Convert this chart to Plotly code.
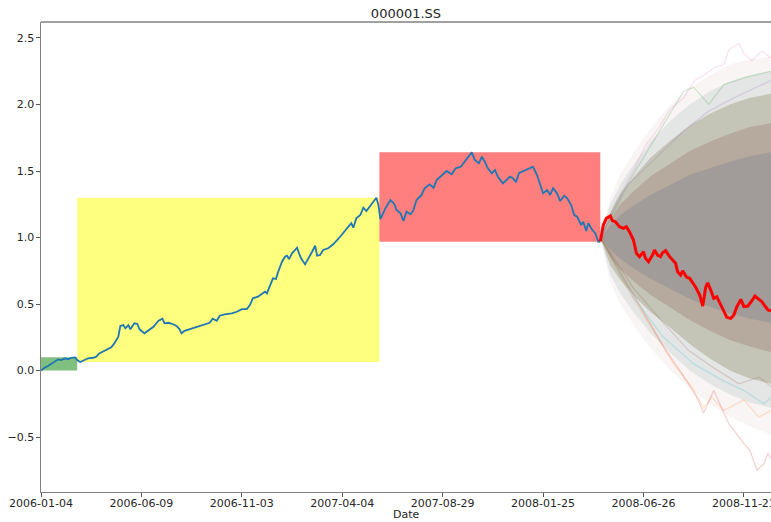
import plotly.graph_objects as go

# ---- historical cumulative return (x = trading-day index) ----
hist_day = [0, 4, 7, 10, 14, 17, 20, 24, 27, 30, 34, 36, 39, 42, 47, 52, 55, 58, 63, 67,
            70, 73, 77, 79, 82, 84, 87, 89, 93, 96, 98, 103, 107, 112, 117, 121, 123, 127, 131, 135,
            138, 140, 143, 148, 153, 158, 163, 168, 171, 175, 178, 183, 190, 195, 200, 205, 208, 211, 216, 220,
            223, 225, 228, 231, 234, 236, 240, 243, 245, 247, 250, 253, 255, 257, 259, 263, 266, 270, 273, 275,
            278, 281, 286, 291, 296, 301, 306, 309, 311, 314, 318, 321, 324, 328, 331, 334, 336, 338, 343, 348,
            352, 354, 358, 361, 364, 368, 371, 374, 379, 382, 387, 391, 394, 399, 404, 409, 413, 418, 422, 426,
            429, 432, 436, 439, 442, 445, 449, 452, 455, 460, 464, 467, 470, 473, 476, 481, 486, 490, 494, 497,
            500, 504, 507, 510, 514, 517, 521, 524, 528, 531, 534, 538, 540, 543, 545, 549, 552, 555, 557]
hist_value = [0.0, 0.024, 0.034, 0.049, 0.074, 0.084, 0.079, 0.092, 0.084, 0.096, 0.099, 0.079, 0.064, 0.074, 0.092, 0.096, 0.104, 0.129, 0.149, 0.159,
              0.174, 0.204, 0.254, 0.335, 0.342, 0.317, 0.342, 0.310, 0.355, 0.350, 0.310, 0.280, 0.299, 0.329, 0.374, 0.389, 0.355, 0.359, 0.350, 0.335,
              0.310, 0.280, 0.299, 0.310, 0.325, 0.335, 0.347, 0.359, 0.390, 0.374, 0.412, 0.422, 0.430, 0.442, 0.462, 0.462, 0.492, 0.543, 0.555, 0.580,
              0.593, 0.580, 0.643, 0.693, 0.688, 0.738, 0.818, 0.856, 0.863, 0.838, 0.881, 0.906, 0.923, 0.881, 0.844, 0.798, 0.844, 0.893, 0.938, 0.863,
              0.868, 0.906, 0.919, 0.949, 0.989, 1.032, 1.074, 1.107, 1.074, 1.144, 1.169, 1.224, 1.199, 1.239, 1.265, 1.299, 1.244, 1.139, 1.219, 1.282,
              1.250, 1.207, 1.182, 1.124, 1.194, 1.174, 1.207, 1.282, 1.320, 1.370, 1.400, 1.374, 1.432, 1.470, 1.500, 1.475, 1.520, 1.532, 1.570, 1.607,
              1.640, 1.583, 1.558, 1.607, 1.570, 1.520, 1.483, 1.508, 1.457, 1.407, 1.432, 1.457, 1.445, 1.415, 1.483, 1.500, 1.520, 1.532, 1.470, 1.395,
              1.332, 1.357, 1.320, 1.370, 1.332, 1.274, 1.314, 1.295, 1.244, 1.169, 1.156, 1.094, 1.119, 1.049, 1.107, 1.056, 1.032, 0.968, 0.970]

# ---- realised path after the simulation start ----
real_day = [557, 558, 560, 563, 567, 569, 572, 576, 580, 583, 586, 590, 593, 596, 600, 602, 605, 609, 611, 614,
            617, 619, 622, 626, 629, 632, 634, 637, 639, 643, 646, 649, 652, 656, 659, 662, 664, 667, 670, 673,
            676, 679, 683, 687, 690, 693, 697, 700, 704, 708, 711, 715, 718, 721, 724, 727]
real_value = [0.970, 1.020, 1.094, 1.144, 1.162, 1.126, 1.119, 1.081, 1.069, 1.081, 1.044, 0.981, 0.881, 0.856, 0.893, 0.844, 0.818, 0.868, 0.906, 0.868,
              0.856, 0.886, 0.901, 0.856, 0.831, 0.806, 0.743, 0.718, 0.750, 0.701, 0.693, 0.660, 0.626, 0.568, 0.485, 0.626, 0.660, 0.605, 0.543, 0.555,
              0.505, 0.455, 0.400, 0.392, 0.417, 0.480, 0.535, 0.480, 0.485, 0.525, 0.560, 0.535, 0.517, 0.485, 0.455, 0.450]

# ---- regimes: boundaries (trading-day index) and colours ----
regime_bounds = [0, 36, 337, 557]
regime_colors = ["green", "yellow", "red"]

# ---- simulated fan: nested envelopes of the simulated paths, outermost first ----
fan_day = [557, 567, 577, 592, 607, 627, 646, 666, 686, 706, 727]
fan_bands = [
    # (upper, lower, fill colour)
    ([1.00, 1.30, 1.48, 1.66, 1.82, 2.00, 2.12, 2.22, 2.30, 2.34, 2.36],
     [1.00, 0.66, 0.50, 0.32, 0.17, 0.00, -0.13, -0.25, -0.35, -0.42, -0.48], "rgba(210,175,170,0.12)"),
    ([1.00, 1.25, 1.40, 1.57, 1.72, 1.88, 2.00, 2.10, 2.17, 2.22, 2.25],
     [1.00, 0.72, 0.58, 0.42, 0.28, 0.13, 0.00, -0.10, -0.18, -0.24, -0.28], "rgba(150,175,175,0.22)"),
    ([1.00, 1.19, 1.33, 1.47, 1.60, 1.73, 1.84, 1.93, 2.00, 2.05, 2.08],
     [1.00, 0.79, 0.68, 0.55, 0.44, 0.32, 0.20, 0.09, 0.00, -0.06, -0.10], "rgba(145,145,105,0.38)"),
    ([1.00, 1.14, 1.25, 1.36, 1.46, 1.56, 1.65, 1.72, 1.78, 1.83, 1.86],
     [1.00, 0.85, 0.76, 0.66, 0.57, 0.47, 0.38, 0.30, 0.23, 0.18, 0.14], "rgba(150,105,100,0.30)"),
    ([1.00, 1.09, 1.17, 1.25, 1.32, 1.40, 1.47, 1.52, 1.57, 1.61, 1.64],
     [1.00, 0.91, 0.84, 0.76, 0.69, 0.61, 0.54, 0.48, 0.43, 0.39, 0.36], "rgba(100,115,145,0.25)"),
]

# a few of the outermost simulated paths
sim_paths = [
    ("#e377c2", [557, 575, 590, 601, 615, 626, 640, 651, 660, 671, 680, 685, 695, 700, 708, 718, 727],
     [1.0, 1.30, 1.50, 1.68, 1.82, 1.96, 2.05, 2.18, 2.22, 2.28, 2.30, 2.41, 2.46, 2.38, 2.33, 2.40, 2.35]),
    ("#2ca02c", [557, 580, 600, 620, 640, 650, 665, 680, 700, 727],
     [1.0, 1.35, 1.60, 1.85, 2.10, 2.13, 2.00, 2.15, 2.20, 2.25]),
    ("#d62728", [557, 580, 600, 620, 638, 653, 660, 670, 685, 700, 706, 713, 720, 724, 727],
     [1.0, 0.70, 0.45, 0.18, -0.02, -0.20, -0.32, -0.15, -0.40, -0.55, -0.60, -0.75, -0.70, -0.62, -0.66]),
    ("#ff7f0e", [557, 585, 610, 630, 648, 660, 668, 680, 700, 715, 727],
     [1.0, 0.60, 0.30, 0.05, -0.12, -0.28, -0.20, -0.30, -0.22, -0.35, -0.30]),
    ("#17becf", [557, 590, 620, 650, 680, 700, 720, 727],
     [1.0, 0.55, 0.25, 0.05, -0.08, -0.15, -0.25, -0.20]),
    ("#9467bd", [557, 585, 610, 640, 665, 690, 710, 727],
     [1.0, 1.40, 1.58, 1.80, 1.95, 2.05, 2.12, 2.18]),
    ("#8c564b", [557, 590, 615, 645, 670, 695, 715, 727],
     [1.0, 0.62, 0.40, 0.15, 0.02, -0.10, -0.05, -0.12]),
]

tick_labels = ["2006-01-04", "2006-06-09", "2006-11-03", "2007-04-04",
               "2007-08-29", "2008-01-25", "2008-06-26", "2008-11-21"]
tick_days = list(range(0, 100 * len(tick_labels), 100))

fig = go.Figure()

# regime rectangles spanning each segment's min..max
for (d0, d1), col in zip(zip(regime_bounds[:-1], regime_bounds[1:]), regime_colors):
    seg = [v for d, v in zip(hist_day, hist_value) if d0 <= d <= d1]
    fig.add_shape(type="rect", x0=d0, x1=d1, y0=min(seg), y1=max(seg),
                  fillcolor=col, opacity=0.5, line_width=0, layer="below")

fig.add_trace(go.Scatter(x=hist_day, y=hist_value, mode="lines",
                         line=dict(color="#1f77b4", width=1.8), showlegend=False))

for hi, lo, color in fan_bands:
    fig.add_trace(go.Scatter(x=fan_day + fan_day[::-1], y=hi + lo[::-1], fill="toself",
                             fillcolor=color, line=dict(width=0), mode="lines",
                             showlegend=False, hoverinfo="skip"))

for col, xs, ys in sim_paths:
    fig.add_trace(go.Scatter(x=xs, y=ys, mode="lines", opacity=0.2,
                             line=dict(color=col, width=1.3), showlegend=False))

fig.add_trace(go.Scatter(x=real_day, y=real_value, mode="lines",
                         line=dict(color="red", width=3), showlegend=False))

axis_font = dict(family="DejaVu Sans", size=11, color="#262626")
fig.update_layout(
    width=771, height=522,
    margin=dict(l=41, r=0, t=22, b=30),
    paper_bgcolor="white", plot_bgcolor="white",
    title=dict(text="000001.SS", x=0.5, xref="paper", y=1 - 13 / 522, yref="container",
               yanchor="middle", font=dict(family="DejaVu Sans", size=13, color="#262626")),
    font=axis_font,
    xaxis=dict(range=[0, 727], tickmode="array", tickvals=tick_days, ticktext=tick_labels,
               showgrid=False, zeroline=False, showline=True, linecolor="#808080", linewidth=1.3,
               mirror=False, ticks="outside", ticklen=3.5, tickcolor="#555", tickfont=axis_font,
               ticklabeloverflow="allow", ticklabelstandoff=-3, automargin=False),
    yaxis=dict(range=[-0.913, 2.62], tickmode="array", tickvals=[-0.5, 0, 0.5, 1, 1.5, 2, 2.5],
               tickformat=".1f", showgrid=False, zeroline=False, showline=True,
               linecolor="#808080", linewidth=1.3, ticks="outside", ticklen=3.5, tickcolor="#555",
               tickfont=axis_font, automargin=False),
)
# x-axis label
fig.add_annotation(text="Date", xref="paper", yref="paper", x=0.5, y=0, yanchor="middle",
                   yshift=-22, showarrow=False, font=axis_font)
# top spine
fig.add_shape(type="line", xref="paper", yref="paper", x0=0, x1=1, y0=1, y1=1,
              line=dict(color="#808080", width=1.3))

fig.write_html("out.html")
